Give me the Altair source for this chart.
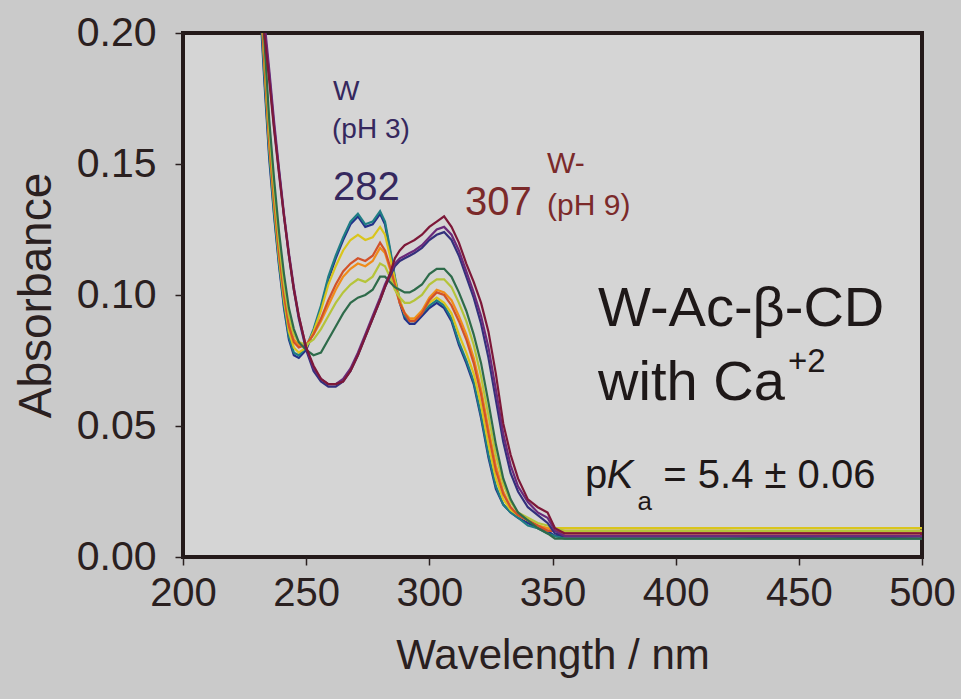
import altair as alt
import pandas as pd

FONT = "Liberation Sans"

wavelength = [228, 231, 233, 235, 237, 239, 241, 243, 245, 247, 250, 253, 256, 259, 262, 265,
              268, 271, 274, 277, 280, 282, 284, 286, 288, 290, 292, 294, 297, 300, 303, 306,
              309, 312, 315, 318, 321, 324, 327, 330, 333, 336, 340, 344, 348, 351, 355, 380,
              420, 460, 500]

series_names = ["pH 3.0", "pH 3.5", "pH 4.2", "pH 4.8", "pH 5.0", "pH 5.4", "pH 5.8",
                "pH 6.5", "pH 7.0", "pH 9.0"]
series_colors = ["#23318a", "#1f7d84", "#d9c51c", "#f08c1a", "#d2522a", "#b5c43a",
                 "#2e6b4a", "#33307d", "#6a2a7a", "#7d1838"]

abs_ph30 = [0.290, 0.215, 0.182, 0.152, 0.130, 0.111, 0.095, 0.083, 0.077, 0.076, 0.079, 0.086,
            0.095, 0.106, 0.114, 0.121, 0.127, 0.130, 0.126, 0.127, 0.131, 0.127, 0.117, 0.106,
            0.097, 0.091, 0.089, 0.089, 0.092, 0.095, 0.097, 0.095, 0.090, 0.081, 0.074, 0.066,
            0.053, 0.038, 0.026, 0.020, 0.017, 0.015, 0.013, 0.011, 0.010, 0.008, 0.008, 0.008,
            0.008, 0.007, 0.008]
abs_ph35 = [0.292, 0.218, 0.184, 0.154, 0.131, 0.112, 0.096, 0.084, 0.078, 0.077, 0.080, 0.087,
            0.096, 0.107, 0.115, 0.122, 0.128, 0.131, 0.127, 0.128, 0.132, 0.128, 0.118, 0.107,
            0.098, 0.092, 0.090, 0.090, 0.093, 0.096, 0.098, 0.096, 0.091, 0.082, 0.075, 0.067,
            0.054, 0.039, 0.027, 0.020, 0.017, 0.015, 0.012, 0.011, 0.009, 0.008, 0.007, 0.007,
            0.007, 0.007, 0.007]
abs_ph42 = [0.295, 0.222, 0.188, 0.157, 0.134, 0.114, 0.098, 0.086, 0.080, 0.078, 0.080, 0.086,
            0.094, 0.104, 0.111, 0.117, 0.121, 0.123, 0.121, 0.122, 0.126, 0.123, 0.115, 0.106,
            0.098, 0.093, 0.091, 0.091, 0.094, 0.097, 0.099, 0.097, 0.093, 0.085, 0.078, 0.070,
            0.058, 0.043, 0.030, 0.022, 0.018, 0.016, 0.014, 0.012, 0.011, 0.011, 0.011, 0.011,
            0.011, 0.011, 0.011]
abs_ph48 = [0.298, 0.226, 0.192, 0.160, 0.137, 0.117, 0.101, 0.089, 0.083, 0.081, 0.081, 0.085,
            0.090, 0.096, 0.102, 0.107, 0.110, 0.112, 0.111, 0.113, 0.118, 0.116, 0.110, 0.103,
            0.097, 0.093, 0.091, 0.091, 0.094, 0.099, 0.102, 0.101, 0.098, 0.092, 0.085, 0.076,
            0.064, 0.049, 0.035, 0.025, 0.019, 0.016, 0.014, 0.012, 0.011, 0.010, 0.010, 0.010,
            0.010, 0.009, 0.010]
abs_ph50 = [0.296, 0.224, 0.190, 0.159, 0.136, 0.116, 0.100, 0.088, 0.082, 0.080, 0.081, 0.085,
            0.091, 0.098, 0.104, 0.109, 0.112, 0.114, 0.113, 0.115, 0.120, 0.117, 0.111, 0.104,
            0.097, 0.093, 0.090, 0.090, 0.093, 0.098, 0.101, 0.100, 0.096, 0.090, 0.083, 0.074,
            0.062, 0.047, 0.033, 0.024, 0.019, 0.016, 0.014, 0.012, 0.010, 0.010, 0.009, 0.009,
            0.009, 0.009, 0.009]
abs_ph54 = [0.300, 0.229, 0.195, 0.163, 0.140, 0.120, 0.104, 0.092, 0.085, 0.082, 0.081, 0.083,
            0.087, 0.092, 0.097, 0.101, 0.104, 0.106, 0.105, 0.107, 0.112, 0.111, 0.107, 0.102,
            0.099, 0.097, 0.097, 0.098, 0.100, 0.104, 0.106, 0.106, 0.103, 0.097, 0.090, 0.081,
            0.069, 0.054, 0.039, 0.028, 0.021, 0.017, 0.015, 0.013, 0.012, 0.011, 0.010, 0.010,
            0.010, 0.010, 0.010]
abs_ph58 = [0.302, 0.232, 0.198, 0.167, 0.144, 0.124, 0.108, 0.095, 0.087, 0.082, 0.079, 0.077,
            0.078, 0.083, 0.088, 0.093, 0.097, 0.099, 0.100, 0.102, 0.107, 0.107, 0.105, 0.103,
            0.102, 0.101, 0.101, 0.102, 0.104, 0.108, 0.110, 0.110, 0.107, 0.101, 0.094, 0.085,
            0.074, 0.059, 0.043, 0.030, 0.022, 0.017, 0.014, 0.011, 0.009, 0.007, 0.007, 0.007,
            0.007, 0.007, 0.007]
abs_ph65 = [0.262, 0.228, 0.202, 0.184, 0.164, 0.147, 0.130, 0.115, 0.102, 0.091, 0.079, 0.071,
            0.067, 0.065, 0.065, 0.067, 0.071, 0.077, 0.084, 0.091, 0.098, 0.103, 0.107, 0.111,
            0.113, 0.114, 0.115, 0.116, 0.118, 0.121, 0.123, 0.124, 0.121, 0.115, 0.107, 0.099,
            0.089, 0.076, 0.060, 0.044, 0.032, 0.025, 0.019, 0.016, 0.013, 0.009, 0.008, 0.008,
            0.008, 0.008, 0.008]
abs_ph70 = [0.265, 0.232, 0.205, 0.186, 0.166, 0.148, 0.131, 0.116, 0.103, 0.092, 0.080, 0.072,
            0.068, 0.066, 0.066, 0.068, 0.072, 0.078, 0.085, 0.092, 0.099, 0.104, 0.108, 0.112,
            0.114, 0.115, 0.116, 0.117, 0.119, 0.122, 0.125, 0.126, 0.123, 0.117, 0.109, 0.101,
            0.092, 0.080, 0.064, 0.047, 0.035, 0.027, 0.021, 0.017, 0.015, 0.010, 0.008, 0.008,
            0.008, 0.008, 0.008]
abs_ph90 = [0.258, 0.225, 0.200, 0.182, 0.163, 0.146, 0.130, 0.115, 0.102, 0.092, 0.080, 0.073,
            0.068, 0.066, 0.066, 0.067, 0.071, 0.077, 0.084, 0.091, 0.098, 0.103, 0.108, 0.114,
            0.117, 0.119, 0.120, 0.121, 0.123, 0.126, 0.128, 0.130, 0.126, 0.120, 0.112, 0.105,
            0.097, 0.086, 0.070, 0.051, 0.039, 0.030, 0.022, 0.019, 0.017, 0.011, 0.009, 0.009,
            0.009, 0.009, 0.009]

all_series = [abs_ph30, abs_ph35, abs_ph42, abs_ph48, abs_ph50, abs_ph54, abs_ph58,
              abs_ph65, abs_ph70, abs_ph90]

x_ticks = [200, 250, 300, 350, 400, 450, 500]
y_ticks = [0.00, 0.05, 0.10, 0.15, 0.20]

rows = []
for name, vals in zip(series_names, all_series):
    for w, a in zip(wavelength, vals):
        rows.append({"wl": w, "abs": a, "series": name})
df = pd.DataFrame(rows)

INK = "#2a2020"
x_scale = alt.Scale(domain=[200, 500], nice=False, zero=False)
y_scale = alt.Scale(domain=[0, 0.2], nice=False, zero=False)
x_axis = alt.Axis(values=x_ticks, title="Wavelength / nm", grid=False, domain=False,
                  tickColor=INK, tickSize=8, tickWidth=1.5, labelFontSize=40, labelFont=FONT,
                  labelColor=INK, labelPadding=8, titleFontSize=42, titleFont=FONT,
                  titleColor=INK, titleFontWeight="normal", titlePadding=22, labelFlush=False)
y_axis = alt.Axis(values=y_ticks, format=".2f", title="Absorbance", grid=False, domain=False,
                  tickColor=INK, tickSize=8, tickWidth=1.5, labelFontSize=41, labelFont=FONT,
                  labelColor=INK, labelPadding=19, titleFontSize=46, titleFont=FONT,
                  titleColor=INK, titleFontWeight="normal", titlePadding=16, labelFlush=False)

X = alt.X("wl:Q", scale=x_scale, axis=x_axis)
Y = alt.Y("abs:Q", scale=y_scale, axis=y_axis)

lines = alt.Chart(df).mark_line(clip=True, strokeWidth=2.2).encode(
    x=X, y=Y,
    color=alt.Color("series:N", scale=alt.Scale(domain=series_names, range=series_colors),
                    legend=None),
)

# annotations: text, wavelength, absorbance
ann_text = ["W", "(pH 3)", "282", "307", "W-", "(pH 9)", "W-Ac-\u03b2-CD", "with Ca", "+2",
            "p", "K", "a", "= 5.4 \u00b1 0.06"]
ann_wl = [260.9, 260.5, 260.9, 314.5, 347.8, 347.8, 368.5, 368.5, 445.6, 363.2, 372.0, 384.5, 395.0]
ann_abs = [0.1744, 0.1599, 0.1363, 0.1305, 0.1466, 0.1305, 0.0882, 0.0599, 0.0706, 0.0263,
           0.0263, 0.0179, 0.0263]
ann_size = [28, 28, 40, 40, 30, 30, 56, 56, 33, 40, 40, 26, 40]
ann_color = ["#35285e", "#35285e", "#35285e", "#7b2a2a", "#7b2a2a", "#7b2a2a", "#1e1818",
             "#1e1818", "#1e1818", "#1e1818", "#1e1818", "#1e1818", "#1e1818"]
ann_style = ["normal"] * 10 + ["italic", "normal", "normal"]

layers = [lines]
for t, w, a, s, c, st in zip(ann_text, ann_wl, ann_abs, ann_size, ann_color, ann_style):
    d = pd.DataFrame({"wl": [w], "abs": [a], "t": [t]})
    layers.append(
        alt.Chart(d).mark_text(align="left", baseline="alphabetic", fontSize=s, color=c,
                               font=FONT, fontStyle=st).encode(x=X, y=Y, text="t:N")
    )

chart = alt.layer(*layers).properties(
    width=739, height=524,
    padding={"left": 183, "top": 33, "right": 39, "bottom": 142},
    autosize=alt.AutoSizeParams(type="none"),
    background="#cacaca",
).configure_view(
    fill="#d5d5d5", stroke="#241a1a", strokeWidth=4
)

chart.save("out.html", embed_options={"renderer": "svg", "actions": False})
